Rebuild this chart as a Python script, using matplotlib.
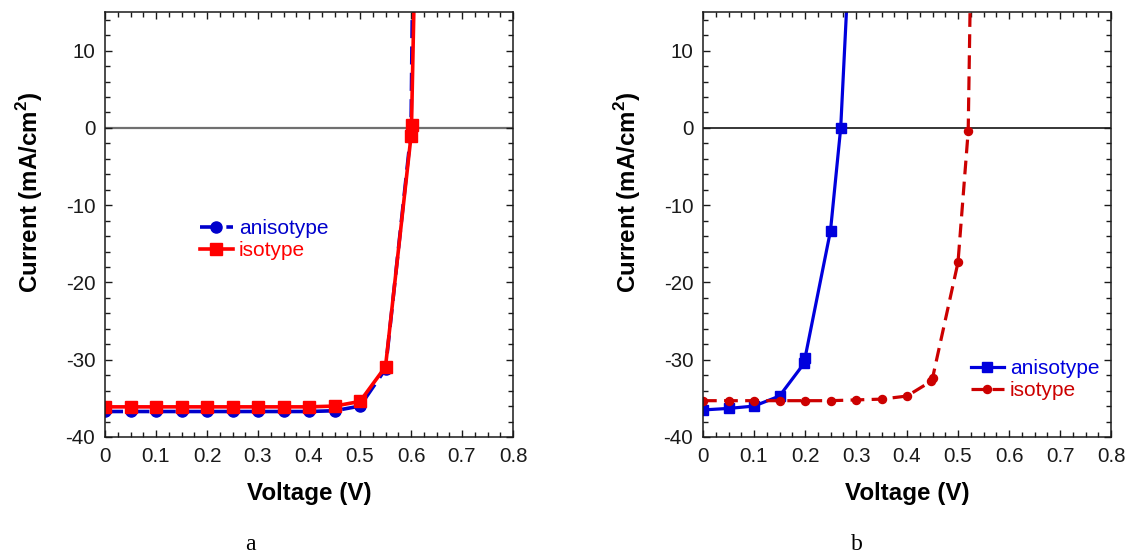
import matplotlib
matplotlib.use("Agg")
import matplotlib.pyplot as plt
from matplotlib.ticker import MultipleLocator

plt.rcParams['font.family'] = ['Liberation Sans', 'DejaVu Sans']
plt.rcParams['axes.unicode_minus'] = False
plt.rcParams['mathtext.fontset'] = 'custom'
plt.rcParams['mathtext.rm'] = 'Liberation Sans'
plt.rcParams['mathtext.bf'] = 'Liberation Sans:bold'

# panel a data
va_aniso = [0, 0.05, 0.1, 0.15, 0.2, 0.25, 0.3, 0.35, 0.4, 0.45, 0.5, 0.55, 0.6, 0.65]
ja_aniso = [-36.7, -36.7, -36.7, -36.7, -36.7, -36.7, -36.7, -36.7, -36.7, -36.6, -36.0, -31.2, -0.5, 300]
va_iso = [0, 0.05, 0.1, 0.15, 0.2, 0.25, 0.3, 0.35, 0.4, 0.45, 0.5, 0.55, 0.6, 0.601, 0.65]
ja_iso = [-36.1, -36.1, -36.1, -36.1, -36.1, -36.1, -36.1, -36.1, -36.1, -36.0, -35.4, -30.9, -1.1, 0.4, 159]

# panel b data
vb_aniso = [0, 0.05, 0.1, 0.15, 0.199, 0.2, 0.25, 0.27, 0.3]
jb_aniso = [-36.5, -36.3, -36.0, -34.7, -30.4, -29.8, -13.3, 0.0, 40]
vb_iso = [0, 0.05, 0.1, 0.15, 0.2, 0.25, 0.3, 0.35, 0.4, 0.447, 0.45, 0.5, 0.52, 0.55]
jb_iso = [-35.3, -35.3, -35.3, -35.3, -35.3, -35.3, -35.2, -35.1, -34.7, -32.8, -32.4, -17.4, -0.4, 128]

W, H = 1136, 554
fig = plt.figure(figsize=(W / 100, H / 100), dpi=100)
ax1 = fig.add_axes([105 / W, 1 - 437 / H, 408 / W, 425 / H])
ax2 = fig.add_axes([703 / W, 1 - 437 / H, 408 / W, 425 / H])

def style(ax):
    ax.set_xlim(0, 0.8)
    ax.set_ylim(-40, 15)
    ax.xaxis.set_major_locator(MultipleLocator(0.1))
    ax.xaxis.set_minor_locator(MultipleLocator(0.025))
    ax.yaxis.set_major_locator(MultipleLocator(10))
    ax.yaxis.set_minor_locator(MultipleLocator(2))
    ax.set_xticks([0, 0.1, 0.2, 0.3, 0.4, 0.5, 0.6, 0.7, 0.8])
    ax.set_xticklabels(['0', '0.1', '0.2', '0.3', '0.4', '0.5', '0.6', '0.7', '0.8'])
    ax.tick_params(which='both', direction='in', top=True, right=True, labelsize=14.8, colors='#1a1a1a')
    ax.tick_params(which='major', length=5.3, width=1)
    ax.tick_params(which='minor', length=3.4, width=1)
    ax.tick_params(axis='x', pad=7)
    ax.tick_params(axis='y', pad=7)
    for s in ax.spines.values():
        s.set_linewidth(1.1)
        s.set_color('#1a1a1a')
    ax.set_xlabel('Voltage (V)', fontsize=17.4, fontweight='bold', labelpad=12)
    ax.set_ylabel('Current (mA/cm$^\\mathbf{2}$)', fontsize=17.4, fontweight='bold')
    ax.yaxis.set_label_coords(-0.146, 0.576)

def put_legend(ax, x, y, colors):
    leg = ax.legend(loc='center left', bbox_to_anchor=(x / W, 1 - y / H), bbox_transform=fig.transFigure,
                    frameon=False, fontsize=15, handlelength=1.56, handletextpad=0.3,
                    borderpad=0, borderaxespad=0, labelspacing=0.15)
    for t, c in zip(leg.get_texts(), colors):
        t.set_color(c)

style(ax1)
ax1.axhline(0, color='#707070', lw=1.6, zorder=1)
ax1.plot(va_aniso, ja_aniso, color='#0000cc', ls=(0, (5, 2.3)), lw=2.6, marker='o', ms=8, label='anisotype')
ax1.plot(va_iso, ja_iso, color='#ff0000', ls='-', lw=2.6, marker='s', ms=8.5, label='isotype')
put_legend(ax1, 200, 239.5, ['#0000cc', '#ff0000'])

style(ax2)
ax2.axhline(0, color='black', lw=1.1, zorder=1)
ax2.plot(vb_aniso, jb_aniso, color='#0000dd', ls='-', lw=2.3, marker='s', ms=7, label='anisotype')
ax2.plot(vb_iso, jb_iso, color='#cc0000', ls=(0, (4.3, 2.3)), lw=2.3, marker='o', ms=5.8, label='isotype')
put_legend(ax2, 971, 379.5, ['#0000dd', '#cc0000'])

fig.text(250 / W, 1 - 544 / H, 'a', family='Liberation Serif', fontsize=17, ha='center', va='center')
fig.text(857 / W, 1 - 544 / H, 'b', family='Liberation Serif', fontsize=17, ha='center', va='center')

fig.savefig('out.png', dpi=100)
